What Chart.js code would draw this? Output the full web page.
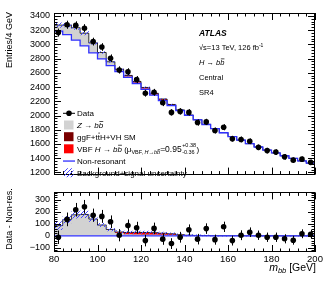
<!DOCTYPE html>
<html>
<head>
<meta charset="utf-8">
<script src="https://cdn.jsdelivr.net/npm/chart.js@4"></script>
<style>
html, body { margin: 0; padding: 0; background: #fff; }
#wrap { position: relative; width: 332px; height: 281px; }
#top { position: absolute; left: 0; top: 0; width: 332px; height: 184px; }
#bot { position: absolute; left: 0; top: 183px; width: 332px; height: 98px; }
</style>
</head>
<body>
<div id="wrap">
  <canvas id="top" width="332" height="184"></canvas>
  <canvas id="bot" width="332" height="98"></canvas>
</div>
<script>
const FONT = '"Liberation Sans", Arial, Helvetica, sans-serif';

// m_bb bins, 4 GeV wide
const binEdges = [80, 84, 88, 92, 96, 100, 104, 108, 112, 116, 120, 124, 128, 132, 136, 140,
    144, 148, 152, 156, 160, 164, 168, 172, 176, 180, 184, 188, 192, 196, 200];

const dataCounts = [3165, 3275, 3266, 3226, 3038, 2962, 2805, 2640, 2613, 2504, 2313, 2326, 2179, 2044, 2058,
    2044, 1902, 1910, 1789, 1835, 1674, 1664, 1638, 1553, 1507, 1486, 1419, 1373, 1387, 1342];
const dataErr = [56, 57, 57, 57, 55, 54, 53, 51, 51, 50, 48, 48, 47, 45, 45,
    45, 44, 44, 42, 43, 41, 41, 40, 39, 39, 39, 38, 37, 37, 37];
const dataMinusNonRes = [-12, 137, 217, 242, 172, 162, 117, 5, 85, 67, -40, 62, -28, -65, -12,
    50, -28, 60, -32, 75, -40, 5, 30, 5, -12, -12, -25, -37, 17, 12];

const nonRes = [3185, 3135, 3058, 2978, 2880, 2795, 2702, 2618, 2535, 2450, 2366, 2286, 2210, 2138, 2070,
    2002, 1938, 1874, 1815, 1758, 1704, 1653, 1604, 1558, 1514, 1474, 1435, 1398, 1362, 1330];
const zbb = [85, 135, 175, 178, 140, 90, 52, 25, 14, 11, 9, 8, 7, 6, 4,
    3, 2, 2, 1, 1, 1, 1, 0, 0, 0, 0, 0, 0, 0, 0];
const ggfSM = [0, 0, 0, 0, 0, 0, 0, 1, 2, 3, 3, 3, 3, 2, 1,
    0, 0, 0, 0, 0, 0, 0, 0, 0, 0, 0, 0, 0, 0, 0];
const vbf = [0, 0, 0, 0, 0, 0, 1, 6, 12, 15, 16, 15, 12, 9, 4,
    2, 1, 0, 0, 0, 0, 0, 0, 0, 0, 0, 0, 0, 0, 0];
const totalUnc = [37, 30, 30, 30, 22, 16, 14, 14, 14, 14, 14, 13, 12, 11, 10,
    8, 7, 6, 6, 6, 5, 5, 5, 5, 5, 5, 5, 5, 5, 5];

const topTicks = [1200, 1400, 1600, 1800, 2000, 2200, 2400, 2600, 2800, 3000, 3200, 3400];
const resTicks = [-100, 0, 100, 200, 300];
const massTicks = [80, 100, 120, 140, 160, 180, 200];

const BLUE = '#3030ff';
const GRAY = '#d2d2d2';
const DARKRED = '#7a0000';
const RED = '#ff0000';

function hatchPattern() {
    const c = document.createElement('canvas');
    c.width = 4; c.height = 4;
    const g = c.getContext('2d');
    g.strokeStyle = 'rgb(70,70,255)';
    g.lineWidth = 1;
    g.beginPath();
    g.moveTo(0, 4); g.lineTo(4, 0);
    g.moveTo(-1, 1); g.lineTo(1, -1);
    g.moveTo(3, 5); g.lineTo(5, 3);
    g.stroke();
    return g.createPattern(c, 'repeat');
}
const HATCH = hatchPattern();

function steps(vals) {
    const pts = vals.map((v, i) => ({ x: binEdges[i], y: v }));
    pts.push({ x: binEdges[vals.length], y: vals[vals.length - 1] });
    return pts;
}
const centers = dataCounts.map((v, i) => (binEdges[i] + binEdges[i + 1]) / 2);

function modelDatasets(base) {
    const zTop = base.map((b, i) => b + zbb[i]);
    const gTop = zTop.map((b, i) => b + ggfSM[i]);
    const total = gTop.map((b, i) => b + vbf[i]);
    const lo = total.map((t, i) => t - totalUnc[i]);
    const hi = total.map((t, i) => t + totalUnc[i]);
    const none = 'rgba(0,0,0,0)';
    const common = { pointRadius: 0, stepped: 'before', tension: 0 };
    return [
        Object.assign({ data: steps(base), borderColor: BLUE, borderWidth: 1.3, fill: false, order: 1 }, common),
        Object.assign({ data: steps(zTop), borderColor: none, backgroundColor: GRAY, fill: '-1', order: 6 }, common),
        Object.assign({ data: steps(gTop), borderColor: none, backgroundColor: DARKRED, fill: '-1', order: 5 }, common),
        Object.assign({ data: steps(total), borderColor: '#000', borderWidth: 0.8, backgroundColor: RED, fill: '-1', order: 4 }, common),
        Object.assign({ data: steps(lo), borderColor: none, fill: false, order: 3 }, common),
        Object.assign({ data: steps(hi), borderColor: none, backgroundColor: HATCH, fill: '-1', order: 3 }, common)
    ];
}

function pointsDataset(vals) {
    return {
        data: vals.map((v, i) => ({ x: centers[i], y: v })),
        showLine: false, pointRadius: 2.8, pointBackgroundColor: '#000', pointBorderColor: '#000',
        pointBorderWidth: 0, order: 0
    };
}

function isMajor(v, step) {
    return Math.abs(v / step - Math.round(v / step)) < 1e-6;
}

// frame with inward ticks on all four sides, ATLAS style
const frame = {
    id: 'frame',
    afterDatasetsDraw(chart, args, o) {
        const { ctx, chartArea: a } = chart;
        const x = chart.scales.x, y = chart.scales.y;
        ctx.save();
        ctx.strokeStyle = '#000';
        ctx.lineWidth = 1;
        ctx.beginPath();
        for (let v = Math.ceil(x.min / o.xMinor) * o.xMinor; v <= x.max + 1e-6; v += o.xMinor) {
            const len = isMajor(v, o.xMajor) ? o.len : o.len / 2;
            const px = Math.round(x.getPixelForValue(v)) + 0.5;
            ctx.moveTo(px, a.bottom); ctx.lineTo(px, a.bottom - len);
            ctx.moveTo(px, a.top); ctx.lineTo(px, a.top + len);
        }
        for (let v = Math.ceil(y.min / o.yMinor) * o.yMinor; v <= y.max + 1e-6; v += o.yMinor) {
            const len = isMajor(v, o.yMajor) ? o.len : o.len / 2;
            const py = Math.round(y.getPixelForValue(v)) + 0.5;
            ctx.moveTo(a.left, py); ctx.lineTo(a.left + len, py);
            ctx.moveTo(a.right, py); ctx.lineTo(a.right - len, py);
        }
        ctx.stroke();
        ctx.strokeRect(Math.round(a.left) + 0.5, Math.round(a.top) + 0.5, Math.round(a.width) - 1, Math.round(a.height) - 1);
        ctx.restore();
    }
};

const errbars = {
    id: 'errbars',
    afterDatasetsDraw(chart, args, o) {
        const { ctx, chartArea: a } = chart;
        const x = chart.scales.x, y = chart.scales.y;
        ctx.save();
        ctx.beginPath();
        ctx.rect(a.left, a.top, a.width, a.height);
        ctx.clip();
        ctx.strokeStyle = '#000';
        ctx.lineWidth = 1;
        ctx.beginPath();
        o.vals.forEach((v, i) => {
            const px = Math.round(x.getPixelForValue(centers[i])) + 0.5;
            ctx.moveTo(px, y.getPixelForValue(v - o.errs[i]));
            ctx.lineTo(px, y.getPixelForValue(v + o.errs[i]));
        });
        ctx.stroke();
        ctx.restore();
    }
};

// draws text pieces one after another; returns end x
function rich(ctx, x, y, parts, measureOnly) {
    parts.forEach(p => {
        const size = p.s || 8;
        ctx.font = (p.i ? 'italic ' : '') + (p.b ? 'bold ' : '') + size + 'px ' + FONT;
        const yy = y + (p.dy || 0);
        const w = ctx.measureText(p.t).width;
        if (!measureOnly) {
            ctx.fillText(p.t, x, yy);
            if (p.o) {
                const cw = ctx.measureText(p.t.slice(-1)).width;
                ctx.fillRect(x + w - cw + 0.6, yy - size * 0.86, cw - 0.6, 0.7);
            }
        }
        x += w;
    });
    return x;
}

const topText = {
    id: 'topText',
    afterDraw(chart) {
        const ctx = chart.ctx;
        ctx.save();
        ctx.fillStyle = '#000';
        ctx.textBaseline = 'alphabetic';

        // y title
        ctx.save();
        ctx.translate(10, 12);
        ctx.rotate(-Math.PI / 2);
        ctx.textAlign = 'right';
        ctx.textBaseline = 'middle';
        ctx.font = '9px ' + FONT;
        ctx.fillText('Entries/4 GeV', 0, 0);
        ctx.restore();
        ctx.textAlign = 'left';

        // labels
        const tx = 199;
        rich(ctx, tx, 36, [{ t: 'ATLAS', b: 1, i: 1, s: 8.5 }]);
        let e = rich(ctx, tx, 50, [{ t: '√s=13 TeV, 126 fb', s: 7.5 }]);
        rich(ctx, e, 47, [{ t: '-1', s: 5 }]);
        rich(ctx, tx, 65, [{ t: 'H', i: 1, s: 7.5 }, { t: ' → ', s: 7.5 }, { t: 'b', i: 1, s: 7.5 }, { t: 'b', i: 1, o: 1, s: 7.5 }]);
        rich(ctx, tx, 80, [{ t: 'Central', s: 7.5 }]);
        rich(ctx, tx, 95, [{ t: 'SR4', s: 7.5 }]);

        // legend
        const lx = 64, lt = 77;
        const rows = [113.3, 125, 136.7, 148.8, 161, 172.7];
        // data marker
        ctx.fillRect(lx - 1, rows[0] - 0.5, 12, 1);
        ctx.beginPath();
        ctx.arc(lx + 5, rows[0], 2.8, 0, Math.PI * 2);
        ctx.fill();
        ctx.fillStyle = GRAY; ctx.fillRect(lx, rows[1] - 4.5, 9.5, 9);
        ctx.fillStyle = DARKRED; ctx.fillRect(lx, rows[2] - 4.5, 9.5, 9);
        ctx.fillStyle = RED; ctx.fillRect(lx, rows[3] - 4.5, 9.5, 9);
        ctx.fillStyle = BLUE; ctx.fillRect(lx - 1, rows[4] - 0.6, 12, 1.3);
        ctx.fillStyle = HATCH; ctx.fillRect(lx, rows[5] - 4.5, 9.5, 9);
        ctx.fillStyle = '#000';
        const d = 2.9;
        rich(ctx, lt, rows[0] + d, [{ t: 'Data' }]);
        rich(ctx, lt, rows[1] + d, [{ t: 'Z', i: 1 }, { t: ' → ' }, { t: 'b', i: 1 }, { t: 'b', i: 1, o: 1 }]);
        rich(ctx, lt, rows[2] + d, [{ t: 'ggF+t' }, { t: 't', o: 1 }, { t: 'H+VH SM' }]);
        e = rich(ctx, lt, rows[3] + d, [{ t: 'VBF ' }, { t: 'H', i: 1 }, { t: ' → ' }, { t: 'b', i: 1 },
            { t: 'b', i: 1, o: 1 }, { t: ' (μ' }, { t: 'VBF, ', s: 5.5, dy: 2.5 }, { t: 'H', s: 5.5, i: 1, dy: 2.5 },
            { t: '→', s: 5.5, dy: 2.5 }, { t: 'b', s: 5.5, i: 1, dy: 2.5 }, { t: 'b', s: 5.5, i: 1, o: 1, dy: 2.5 },
            { t: '=0.95', s: 8.5 }]);
        const e1 = rich(ctx, e + 0.5, rows[3] - 1.5, [{ t: '+0.38', s: 5.5 }]);
        const e2 = rich(ctx, e + 0.5, rows[3] + 4.8, [{ t: '-0.36', s: 5.5 }]);
        rich(ctx, Math.max(e1, e2) + 0.5, rows[3] + d, [{ t: ')' }]);
        rich(ctx, lt, rows[4] + d, [{ t: 'Non-resonant' }]);
        rich(ctx, lt, rows[5] + d, [{ t: 'Background+signal uncertainty' }]);
        ctx.restore();
    }
};

const botText = {
    id: 'botText',
    afterDraw(chart) {
        const ctx = chart.ctx;
        ctx.save();
        ctx.fillStyle = '#000';
        ctx.save();
        ctx.translate(10, 36);
        ctx.rotate(-Math.PI / 2);
        ctx.textAlign = 'center';
        ctx.textBaseline = 'middle';
        ctx.font = '9px ' + FONT;
        ctx.fillText('Data - Non-res.', 0, 0);
        ctx.restore();

        ctx.textAlign = 'left';
        ctx.textBaseline = 'alphabetic';
        const parts = [{ t: 'm', i: 1, s: 10.5 }, { t: 'bb', i: 1, s: 7.5, dy: 2.5 }, { t: ' [GeV]', s: 10.5 }];
        const w = rich(ctx, 0, 0, parts, true);
        rich(ctx, 316 - w, 87.5, parts);
        ctx.restore();
    }
};

function yScale(min, max, ticks, fmt) {
    return {
        min: min, max: max,
        afterFit: s => { s.width = 54; },
        afterBuildTicks: s => { s.ticks = ticks.map(v => ({ value: v })); },
        grid: { display: false, drawTicks: false },
        border: { display: false },
        ticks: { padding: 4, color: '#000', font: { size: 9, family: FONT }, callback: fmt }
    };
}

const topDatasets = modelDatasets(nonRes);
topDatasets.push(pointsDataset(dataCounts));

new Chart(document.getElementById('top'), {
    type: 'line',
    data: { datasets: topDatasets },
    options: {
        responsive: false,
        animation: false,
        layout: { padding: { left: 0, right: 17, top: 13, bottom: 2 } },
        plugins: {
            legend: { display: false },
            tooltip: { enabled: false },
            frame: { xMajor: 20, xMinor: 4, yMajor: 200, yMinor: 40, len: 7 },
            errbars: { vals: dataCounts, errs: dataErr }
        },
        scales: {
            x: { type: 'linear', min: 80, max: 200, display: false },
            y: yScale(1170, 3440, topTicks, v => v)
        }
    },
    plugins: [frame, errbars, topText]
});

const botDatasets = modelDatasets(binEdges.slice(0, -1).map(() => 0));
botDatasets.push(pointsDataset(dataMinusNonRes));

new Chart(document.getElementById('bot'), {
    type: 'line',
    data: { datasets: botDatasets },
    options: {
        responsive: false,
        animation: false,
        layout: { padding: { left: 0, right: 17, top: 3, bottom: 0 } },
        plugins: {
            legend: { display: false },
            tooltip: { enabled: false },
            frame: { xMajor: 20, xMinor: 4, yMajor: 100, yMinor: 20, len: 7 },
            errbars: { vals: dataMinusNonRes, errs: dataErr }
        },
        scales: {
            x: {
                type: 'linear', min: 80, max: 200,
                afterFit: s => { s.height = 29; },
                afterBuildTicks: s => { s.ticks = massTicks.map(v => ({ value: v })); },
                grid: { display: false, drawTicks: false },
                border: { display: false },
                ticks: { padding: 2, maxRotation: 0, autoSkip: false, color: '#000', font: { size: 9.5, family: FONT } }
            },
            y: yScale(-135, 362, resTicks, v => v < 0 ? '−' + (-v) : v)
        }
    },
    plugins: [frame, errbars, botText]
});
</script>
</body>
</html>
